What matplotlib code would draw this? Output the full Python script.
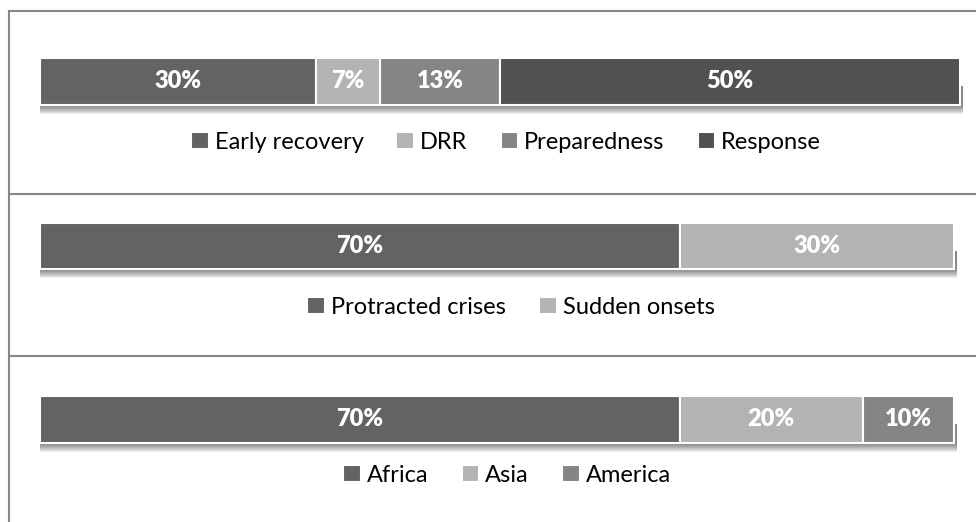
import matplotlib.pyplot as plt
from matplotlib.patches import Rectangle
from matplotlib.lines import Line2D

W, H = 976, 522

phase_labels = ['Early recovery', 'DRR', 'Preparedness', 'Response']
phase_share = [30, 7, 13, 50]
crisis_labels = ['Protracted crises', 'Sudden onsets']
crisis_share = [70, 30]
region_labels = ['Africa', 'Asia', 'America']
region_share = [70, 20, 10]

dark = '#636363'
light = '#b3b3b3'
mid = '#858585'
darkest = '#515151'
phase_colors = [dark, light, mid, darkest]
crisis_colors = [dark, light]
region_colors = [dark, light, mid]

plt.rcParams['font.family'] = ['Lato', 'DejaVu Sans']

fig = plt.figure(figsize=(W / 100, H / 100), dpi=100)


def px_axes(x0, y0, x1, y1):
    return fig.add_axes([x0 / W, 1 - y1 / H, (x1 - x0) / W, (y1 - y0) / H])


# frame round the three panels
border = '#868686'
def fig_line(xs, ys):
    fig.add_artist(Line2D([x / W for x in xs], [1 - y / H for y in ys],
                          color=border, lw=1.5, transform=fig.transFigure))

fig_line([8.5, 8.5], [10.5, H + 5])
fig_line([8.5, W + 5], [10.5, 10.5])
fig_line([8.5, W + 5], [193.5, 193.5])
fig_line([8.5, W + 5], [355.5, 355.5])

# labels, shares, colours, bar box in px, legend centre in px
panels = [
    (phase_labels, phase_share, phase_colors, (40, 58, 960, 105), (506, 142)),
    (crisis_labels, crisis_share, crisis_colors, (40, 223, 954, 269), (511, 307)),
    (region_labels, region_share, region_colors, (40, 396, 954, 443), (507, 475)),
]

for labels, share, colors, box, leg_c in panels:
    ax = px_axes(*box)
    px_y = 1 / (box[3] - box[1])
    px_x = 100 / (box[2] - box[0])

    # soft drop shadow under the bar
    for k in range(1, 10):
        ax.add_patch(Rectangle((0, -0.5 - k * px_y), 100 + 3 * px_x, k * px_y + 0.4,
                               facecolor='black', alpha=0.065, lw=0,
                               clip_on=False, zorder=1))

    left = 0
    for lab, v, c in zip(labels, share, colors):
        ax.barh(0, v, left=left, height=1, color=c, edgecolor='white',
                linewidth=1.5, label=lab, zorder=3, clip_on=False)
        ax.text(left + v / 2, 0, f'{v}%', ha='center', va='center',
                color='white', fontweight='heavy', fontsize=17, zorder=4)
        left += v

    ax.set_xlim(0, 100)
    ax.set_ylim(-0.5, 0.5)
    ax.axis('off')

    ax.legend(loc='center', bbox_to_anchor=(leg_c[0] / W, 1 - leg_c[1] / H),
              bbox_transform=fig.transFigure, ncol=len(labels), frameon=False,
              fontsize=17, handlelength=0.75, handleheight=0.75,
              handletextpad=0.25, columnspacing=1.4, borderpad=0)

fig.savefig('out.png', dpi=100)
